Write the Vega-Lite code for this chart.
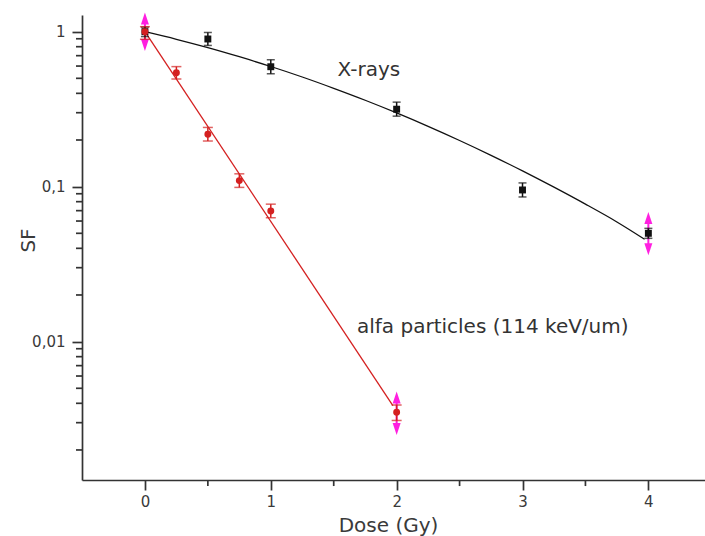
{
  "$schema": "https://vega.github.io/schema/vega-lite/v6.json",
  "width": 623,
  "height": 465,
  "autosize": "none",
  "padding": {"left": 82, "top": 15, "right": 0, "bottom": 56},
  "background": "white",
  "config": {
    "view": {"stroke": null},
    "font": "DejaVu Sans",
    "axis": {
      "domainColor": "#333333",
      "domainWidth": 1.7,
      "tickColor": "#333333",
      "tickWidth": 1.7,
      "grid": false,
      "labelFont": "DejaVu Sans",
      "labelColor": "#3a3a3a",
      "labelFontSize": 15,
      "labelOverlap": false,
      "labelFlush": false,
      "titleFont": "DejaVu Sans",
      "titleColor": "#3a3a3a",
      "titleFontSize": 20,
      "titleFontWeight": "normal"
    }
  },
  "datasets": {
    "measured": [
      {"series": "X-rays", "dose": 0, "sf": 1, "lo": 0.93, "hi": 1.07},
      {"series": "X-rays", "dose": 0.5, "sf": 0.897, "lo": 0.815, "hi": 0.988},
      {"series": "X-rays", "dose": 1, "sf": 0.594, "lo": 0.535, "hi": 0.659},
      {"series": "X-rays", "dose": 2, "sf": 0.316, "lo": 0.285, "hi": 0.351},
      {"series": "X-rays", "dose": 3, "sf": 0.0952, "lo": 0.0858, "hi": 0.1057},
      {"series": "X-rays", "dose": 4, "sf": 0.05, "lo": 0.0464, "hi": 0.0538},
      {"series": "alfa", "dose": 0, "sf": 1, "lo": 0.893, "hi": 1.077},
      {"series": "alfa", "dose": 0.25, "sf": 0.543, "lo": 0.495, "hi": 0.595},
      {"series": "alfa", "dose": 0.5, "sf": 0.218, "lo": 0.197, "hi": 0.241},
      {"series": "alfa", "dose": 0.75, "sf": 0.1094, "lo": 0.0989, "hi": 0.121},
      {"series": "alfa", "dose": 1, "sf": 0.0697, "lo": 0.063, "hi": 0.0771},
      {"series": "alfa", "dose": 2, "sf": 0.0035, "lo": 0.0031, "hi": 0.0039}
    ],
    "fits": [
      {"series": "X-rays", "dose": 0, "sf": 1},
      {"series": "X-rays", "dose": 0.25, "sf": 0.893},
      {"series": "X-rays", "dose": 0.5, "sf": 0.789},
      {"series": "X-rays", "dose": 0.75, "sf": 0.689},
      {"series": "X-rays", "dose": 1, "sf": 0.596},
      {"series": "X-rays", "dose": 1.25, "sf": 0.51},
      {"series": "X-rays", "dose": 1.5, "sf": 0.431},
      {"series": "X-rays", "dose": 1.75, "sf": 0.361},
      {"series": "X-rays", "dose": 2, "sf": 0.299},
      {"series": "X-rays", "dose": 2.25, "sf": 0.245},
      {"series": "X-rays", "dose": 2.5, "sf": 0.1986},
      {"series": "X-rays", "dose": 2.75, "sf": 0.1593},
      {"series": "X-rays", "dose": 3, "sf": 0.1264},
      {"series": "X-rays", "dose": 3.25, "sf": 0.0992},
      {"series": "X-rays", "dose": 3.5, "sf": 0.0771},
      {"series": "X-rays", "dose": 3.75, "sf": 0.0592},
      {"series": "X-rays", "dose": 3.97, "sf": 0.0458},
      {"series": "alfa", "dose": 0, "sf": 1},
      {"series": "alfa", "dose": 1.97, "sf": 0.00387}
    ],
    "limits": [
      {"dose": 0, "up": 1.217, "down": 0.82},
      {"dose": 2, "up": 0.00436, "down": 0.00273},
      {"dose": 4, "up": 0.0628, "down": 0.0394}
    ],
    "doseMinor": [
      {"dose": 0.5}, {"dose": 1.5}, {"dose": 2.5}, {"dose": 3.5}
    ],
    "sfMinor": [
      {"sf": 0.002}, {"sf": 0.003}, {"sf": 0.004}, {"sf": 0.005}, {"sf": 0.006}, {"sf": 0.007}, {"sf": 0.008}, {"sf": 0.009},
      {"sf": 0.02}, {"sf": 0.03}, {"sf": 0.04}, {"sf": 0.05}, {"sf": 0.06}, {"sf": 0.07}, {"sf": 0.08}, {"sf": 0.09},
      {"sf": 0.2}, {"sf": 0.3}, {"sf": 0.4}, {"sf": 0.5}, {"sf": 0.6}, {"sf": 0.7}, {"sf": 0.8}, {"sf": 0.9}
    ],
    "notes": [
      {"label": "X-rays", "dose": 1.53, "sf": 0.566},
      {"label": "alfa particles (114 keV/um)", "dose": 1.685, "sf": 0.01245}
    ]
  },
  "layer": [
    {
      "data": {"name": "fits"},
      "mark": {"type": "line", "interpolate": "monotone", "strokeWidth": 1.3, "clip": false},
      "encoding": {
        "x": {
          "field": "dose", "type": "quantitative",
          "scale": {"domain": [-0.5, 4.45], "nice": false, "zero": false},
          "axis": {
            "title": "Dose (Gy)",
            "values": [0, 1, 2, 3, 4],
            "format": "d",
            "tickSize": 10,
            "labelPadding": 4,
            "titleX": 306,
            "titleY": 45,
            "titleAlign": "center",
            "titleBaseline": "middle"
          }
        },
        "y": {
          "field": "sf", "type": "quantitative",
          "scale": {"type": "log", "domain": [0.00128, 1.281], "nice": false},
          "axis": {
            "title": "SF",
            "values": [0.01, 0.1, 1],
            "labelExpr": "datum.value === 1 ? '1' : datum.value === 0.1 ? '0,1' : '0,01'",
            "tickSize": 10,
            "labelPadding": 7,
            "titleX": -54,
            "titleY": 225,
            "titleAngle": -90,
            "titleAlign": "center",
            "titleBaseline": "middle"
          }
        },
        "detail": {"field": "series"},
        "color": {
          "field": "series", "type": "nominal",
          "scale": {"domain": ["X-rays", "alfa"], "range": ["#111111", "#d42020"]},
          "legend": null
        }
      }
    },
    {
      "data": {"name": "doseMinor"},
      "mark": {"type": "rule", "strokeWidth": 1.7, "color": "#333333"},
      "encoding": {
        "x": {"field": "dose", "type": "quantitative"},
        "y": {"datum": 0.00128, "type": "quantitative"},
        "y2": {"datum": 0.00117}
      }
    },
    {
      "data": {"name": "sfMinor"},
      "mark": {"type": "rule", "strokeWidth": 1.7, "color": "#333333"},
      "encoding": {
        "x": {"datum": -0.5477, "type": "quantitative"},
        "x2": {"datum": -0.5},
        "y": {"field": "sf", "type": "quantitative"}
      }
    },
    {
      "data": {"name": "limits"},
      "mark": {"type": "rule", "color": "#ff1fe0", "strokeWidth": 2},
      "encoding": {
        "x": {"field": "dose", "type": "quantitative"},
        "y": {"field": "down", "type": "quantitative"},
        "y2": {"field": "up"}
      }
    },
    {
      "data": {"name": "limits"},
      "mark": {"type": "point", "shape": "M0,-1.5L1,1.5L-1,1.5Z", "filled": true, "color": "#ff1fe0", "size": 64, "opacity": 1},
      "encoding": {
        "x": {"field": "dose", "type": "quantitative"},
        "y": {"field": "up", "type": "quantitative"}
      }
    },
    {
      "data": {"name": "limits"},
      "mark": {"type": "point", "shape": "M0,1.5L1,-1.5L-1,-1.5Z", "filled": true, "color": "#ff1fe0", "size": 64, "opacity": 1},
      "encoding": {
        "x": {"field": "dose", "type": "quantitative"},
        "y": {"field": "down", "type": "quantitative"}
      }
    },
    {
      "data": {"name": "measured"},
      "mark": {"type": "rule", "strokeWidth": 1.5},
      "encoding": {
        "x": {"field": "dose", "type": "quantitative"},
        "y": {"field": "lo", "type": "quantitative"},
        "y2": {"field": "hi"},
        "color": {"field": "series", "type": "nominal", "legend": null}
      }
    },
    {
      "data": {"name": "measured"},
      "mark": {"type": "tick", "orient": "horizontal", "thickness": 1.5},
      "encoding": {
        "x": {"field": "dose", "type": "quantitative"},
        "y": {"field": "lo", "type": "quantitative"},
        "size": {"field": "series", "type": "nominal", "scale": {"domain": ["X-rays", "alfa"], "range": [8, 10]}, "legend": null},
        "color": {"field": "series", "type": "nominal", "legend": null}
      }
    },
    {
      "data": {"name": "measured"},
      "mark": {"type": "tick", "orient": "horizontal", "thickness": 1.5},
      "encoding": {
        "x": {"field": "dose", "type": "quantitative"},
        "y": {"field": "hi", "type": "quantitative"},
        "size": {"field": "series", "type": "nominal", "legend": null},
        "color": {"field": "series", "type": "nominal", "legend": null}
      }
    },
    {
      "data": {"name": "measured"},
      "mark": {"type": "point", "filled": true, "opacity": 1, "size": 48},
      "encoding": {
        "x": {"field": "dose", "type": "quantitative"},
        "y": {"field": "sf", "type": "quantitative"},
        "shape": {"field": "series", "type": "nominal", "scale": {"domain": ["X-rays", "alfa"], "range": ["square", "circle"]}, "legend": null},
        "color": {"field": "series", "type": "nominal", "legend": null}
      }
    },
    {
      "data": {"name": "notes"},
      "mark": {"type": "text", "align": "left", "baseline": "middle", "fontSize": 20, "color": "#333333", "font": "DejaVu Sans"},
      "encoding": {
        "x": {"field": "dose", "type": "quantitative"},
        "y": {"field": "sf", "type": "quantitative"},
        "text": {"field": "label"}
      }
    }
  ]
}
